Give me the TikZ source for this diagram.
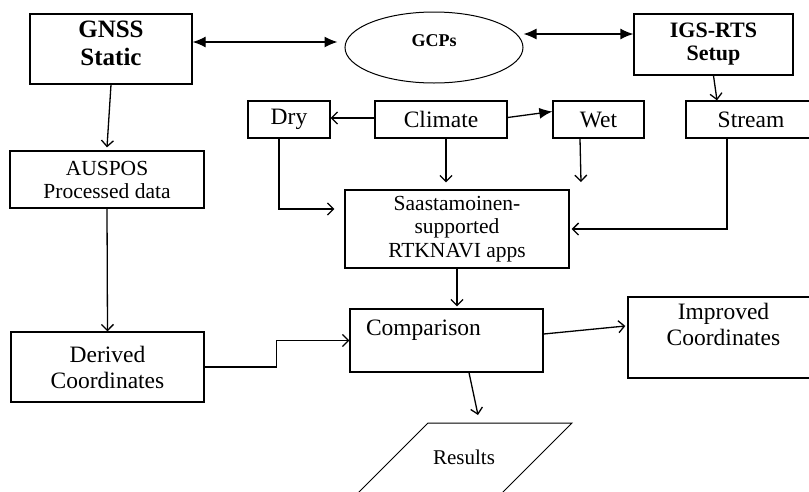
\documentclass[tikz,border=0pt]{standalone}
\usepackage{fontspec}
\setmainfont{Liberation Serif}
\usetikzlibrary{arrows.meta,shapes.geometric}

\tikzset{
  box/.style={draw, rectangle, line width=1.3pt, align=center, inner sep=0pt,
    font=\fontsize{23.5}{26}\selectfont},
  arr/.style={-{Straight Barb[length=6pt,width=12pt]}, line width=1.3pt},
  farr/.style={{Latex[length=13pt,width=11pt]}-{Latex[length=13pt,width=11pt]}, line width=1.3pt},
}

\begin{document}
\begin{tikzpicture}[x=1pt,y=-1pt]
  \useasboundingbox (0,0) rectangle (809,491);
  \clip (0,0) rectangle (809,491);

  % top row
  \node[box, minimum width=162, minimum height=70,
    font=\fontsize{25}{28}\selectfont\bfseries] (gnss) at (111,49) {GNSS\\Static\\[-17pt]};
  \node[draw, ellipse, line width=1pt, minimum width=178, minimum height=71, inner sep=0pt,
    font=\fontsize{18}{20}\selectfont\bfseries] (gcps) at (434,47.5) {\raisebox{1pt}[0pt][0pt]{GCPs}};
  \node[box, minimum width=159, minimum height=61,
    font=\fontsize{22}{23}\selectfont\bfseries] (igs) at (713.5,44.5) {IGS-RTS\\Setup};

  % climate row
  \node[box, minimum width=82, minimum height=37] (dry) at (289,119.5) {Dry};
  \node[box, minimum width=132, minimum height=37] (climate) at (441,119.5) {Climate};
  \node[box, minimum width=91, minimum height=37] (wet) at (598.5,119.5) {Wet};
  \node[box, minimum width=130, minimum height=37] (stream) at (751,119.5) {Stream};

  \node[box, minimum width=194, minimum height=57,
    font=\fontsize{21.5}{23}\selectfont] (auspos) at (107,179.5) {AUSPOS\\Processed data};
  \node[box, minimum width=224, minimum height=78,
    font=\fontsize{21.5}{23.5}\selectfont] (saast) at (457,229) {Saastamoinen-\\supported\\RTKNAVI apps};

  % lower part
  \node[box, minimum width=193, minimum height=70] (derived) at (107.5,367) {Derived\\Coordinates};
  \node[box, minimum width=193, minimum height=63, align=left, text width=161, inner xsep=16pt] (comp) at (446.5,340.5) {Comparison\\~};
  \node[box, minimum width=191, minimum height=81] (imp) at (723.5,337.5) {Improved\\Coordinates\\~};
  \node[font=\fontsize{21}{22}\selectfont] (res) at (464,457) {Results};
  \draw[line width=1pt] ([shift={(-36,-34)}]res.center) -- ++(144,0) -- ++(-76,76) -- ++(-144,0) -- cycle;

  \coordinate (wetend) at (581,182);

  % connectors
  \draw[farr] ([yshift=7pt]gnss.east) -- ([xshift=-7pt,yshift=5.5pt]gcps.west);
  \draw[farr] ([yshift=13.5pt]gcps.east) -- ([yshift=10.5pt]igs.west);
  \draw[arr] (igs.south) -- ([xshift=-34pt]stream.north);
  \draw[arr] ([yshift=1.5pt]climate.west) -- ([yshift=1.5pt]dry.east);
  \draw[-{Latex[length=13pt,width=11pt]}, line width=1.3pt] ([yshift=2pt]climate.east) -- ([yshift=8pt]wet.west);
  \draw[arr] ([xshift=5pt]climate.south) -- ([xshift=-11pt,yshift=7pt]saast.north);
  \draw[arr] ([xshift=-18.5pt]wet.south) -- (wetend);
  \draw[arr] ([xshift=-10pt]dry.south) |- ([xshift=-10pt,yshift=20pt]saast.west);
  \draw[arr] ([xshift=-24pt]stream.south) |- ([xshift=2pt]saast.east);
  \draw[arr] (gnss.south) -- ([yshift=3pt]auspos.north);
  \draw[arr] (auspos.south) -- (derived.north);
  \draw[arr] (saast.south) -- ([yshift=2pt]saast.south |- comp.north);
  \draw[arr] (derived.east) -- ++(72,0) |- (comp.west);
  \draw[arr] ([yshift=6.5pt]comp.east) -- ([xshift=-2pt,yshift=11.5pt]imp.west);
  \draw[arr] ([xshift=22.5pt]comp.south) -- ([xshift=14pt,yshift=42pt]res.center);
\end{tikzpicture}
\end{document}
